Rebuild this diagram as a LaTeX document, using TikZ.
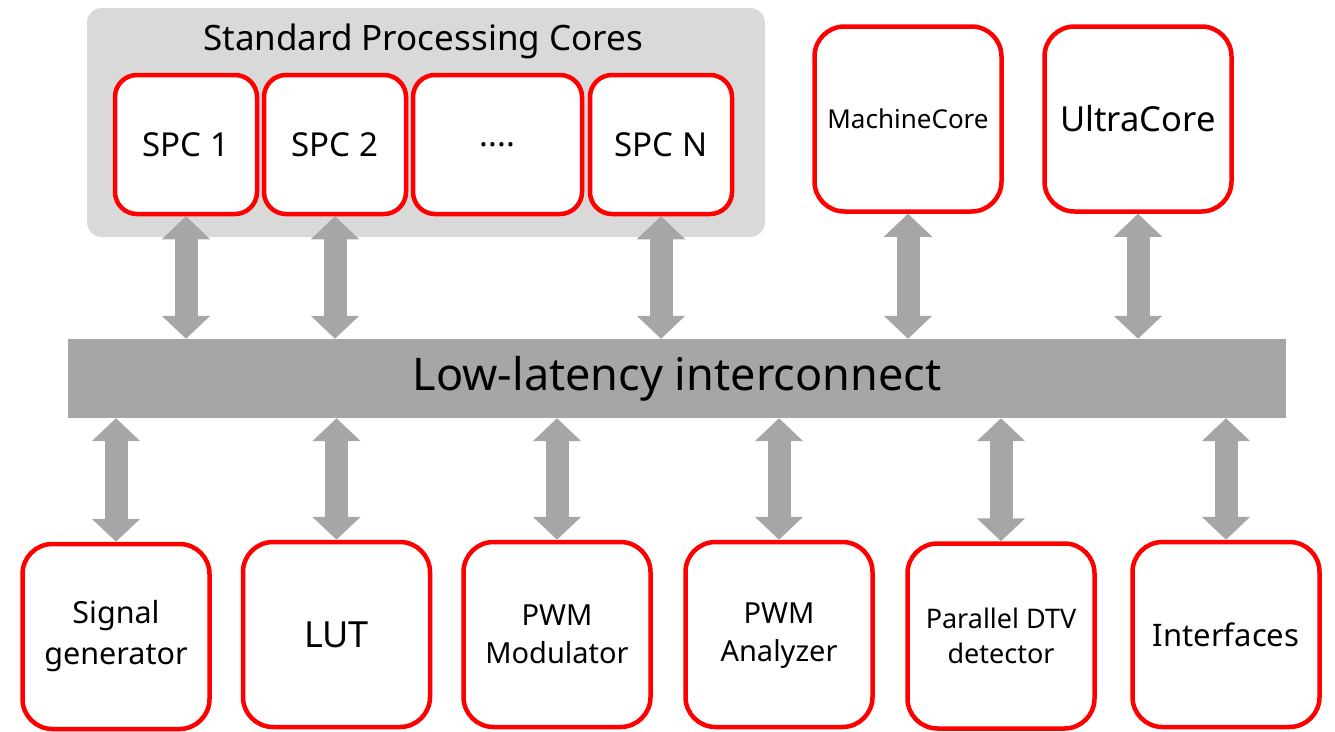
\documentclass[tikz,border=0pt]{standalone}
\usepackage{fontspec}
\setmainfont{Noto Sans}
\usetikzlibrary{arrows.meta}
\definecolor{boxred}{HTML}{FF0000}
\definecolor{grouppgray}{HTML}{D9D9D9}
\definecolor{bargray}{HTML}{A6A6A6}
\newcommand{\fs}[2]{\fontsize{#1pt}{#2pt}\selectfont}
\tikzset{
  corebox/.style={draw=boxred, line width=4.5pt, fill=white, rounded corners=22pt, align=center, inner sep=0pt},
  bigbox/.style={draw=boxred, line width=4.5pt, fill=white, rounded corners=30pt, align=center, inner sep=0pt, minimum width=187pt, minimum height=185pt},
  dblarrow/.style={draw=bargray, line width=23pt, {Triangle[width=47pt,length=23pt]}-{Triangle[width=47pt,length=23pt]}}
}
\begin{document}
\begin{tikzpicture}[x=1pt,y=-1pt]
\useasboundingbox (0,0) rectangle (1335,731);
% group
\node[fill=grouppgray, rounded corners=15pt, minimum width=678pt, minimum height=229pt, inner sep=0pt] (grp) at (426,122.5) {};
\node[font=\fs{35}{40}] (grptitle) at (423,41) {Standard Processing Cores};
\node[corebox, minimum width=142pt, minimum height=139pt, font=\fs{33}{38}] (spc1) at (186,144.5) {SPC 1};
\node[corebox, minimum width=142pt, minimum height=139pt, font=\fs{33}{38}] (spc2) at (335,144.5) {SPC 2};
\node[corebox, minimum width=169pt, minimum height=139pt, font=\fs{33}{38}] (spcd) at (497.5,144.5) {....};
\node[corebox, minimum width=142pt, minimum height=139pt, font=\fs{33}{38}] (spcn) at (661,144.5) {SPC N};
\node[bigbox, font=\fs{26}{30}] (mc) at (908,119) {MachineCore};
\node[bigbox, font=\fs{34.5}{40}] (uc) at (1138,119) {UltraCore};
% bar
\node[fill=bargray, minimum width=1218pt, minimum height=79pt, inner sep=0pt, font=\fs{45}{52}] (bar) at (677,378.5) {Low-latency interconnect};
% bottom
\node[bigbox, font=\fs{30.5}{41}] (sig) at (116,636.5) {Signal\\generator};
\node[bigbox, font=\fs{36}{40}] (lut) at (336.5,634.5) {LUT};
\node[bigbox, font=\fs{29}{38}] (pwmm) at (557,634.5) {PWM\\Modulator};
\node[bigbox, font=\fs{29}{38}] (pwma) at (779,634.5) {\raisebox{-5pt}{\begin{tabular}{@{}c@{}}PWM\\Analyzer\end{tabular}}};
\node[bigbox, font=\fs{27}{35}] (dtv) at (1001,636) {Parallel DTV\\detector};
\node[bigbox, font=\fs{31}{36}] (intf) at (1226,634.5) {Interfaces};
% arrows
\foreach \n in {spc1,spc2,spcn,mc,uc}
  \draw[dblarrow] (\n.south) -- (\n.south |- bar.north);
\foreach \n in {sig,lut,pwmm,pwma,dtv,intf}
  \draw[dblarrow] (\n.north |- bar.south) -- (\n.north);
\end{tikzpicture}
\end{document}
